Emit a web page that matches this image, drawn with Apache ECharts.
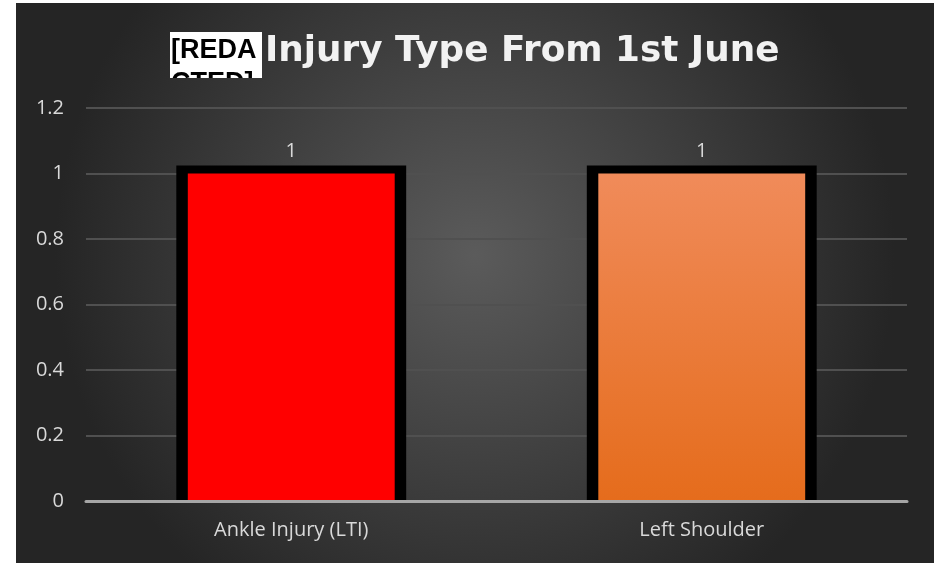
<!DOCTYPE html>
<html>
<head>
<meta charset="utf-8">
<script src="https://cdn.jsdelivr.net/npm/echarts@6/dist/echarts.min.js"></script>
<style>
  html, body { margin: 0; padding: 0; background: #ffffff; }
  #chart { position: absolute; left: 16px; top: 3px; width: 918px; height: 560px; }
</style>
</head>
<body>
<div id="chart"></div>
<script>
// data
var categories = ['Ankle Injury (LTI)', 'Left Shoulder'];
var injuryCounts = [1, 1];
var titleText = 'Injury Type From 1st June';

var fills = [
    '#ff0000',
    {
        type: 'linear', x: 0, y: 0, x2: 0, y2: 1,
        colorStops: [
            {offset: 0, color: '#f08b5a'},
            {offset: 1, color: '#e56c1c'}
        ]
    }
];

var seriesData = [];
for (var i = 0; i < categories.length; ++i)
    seriesData.push([i, injuryCounts[i]]);

// radial background, same numbers used for the patch under the redaction box
var bgStops = [
    {offset: 0, color: '#5b5b5b'},
    {offset: 1, color: '#252525'}
];

// bar with a thick black frame on top and sides, none at the base
function renderBar(params, api) {
    var idx = api.value(0);
    var top = api.coord([idx, api.value(1)]);
    var base = api.coord([idx, 0]);
    var band = api.size([1, 0])[0];
    var outerW = band * 0.56;
    var innerW = band * 0.504;
    var topBorder = 8;
    return {
        type: 'group',
        children: [
            {
                type: 'rect',
                shape: {x: top[0] - outerW / 2, y: top[1] - topBorder, width: outerW, height: base[1] - top[1] + topBorder},
                style: {fill: '#000000'}
            },
            {
                type: 'rect',
                shape: {x: top[0] - innerW / 2, y: top[1], width: innerW, height: base[1] - top[1]},
                style: {fill: fills[params.dataIndex]}
            },
            {
                type: 'text',
                x: top[0],
                y: top[1] - topBorder - 4,
                style: {
                    text: String(api.value(1)),
                    fill: '#d9d9d9',
                    font: '20px "Open Sans"',
                    align: 'center',
                    verticalAlign: 'bottom'
                }
            }
        ]
    };
}

var option = {
    backgroundColor: {
        type: 'radial', x: 0.5, y: 0.45, r: 0.75,
        colorStops: bgStops
    },
    title: {
        text: titleText,
        left: 244,
        top: 26,
        textStyle: {
            color: '#f2f2f2',
            fontFamily: 'DejaVu Sans',
            fontWeight: 'bold',
            fontSize: 35.8
        }
    },
    graphic: [
        {
            type: 'rect',
            shape: {x: 154, y: 29, width: 92, height: 46},
            style: {fill: '#ffffff'}
        },
        {
            type: 'text',
            x: 155, y: 31,
            style: {
                text: '[REDA\nCTED]',
                fill: '#000000',
                font: 'bold 27px "Liberation Sans", sans-serif',
                lineHeight: 33
            }
        },
        {
            // hides the cut-off lower half of the redaction box text
            type: 'rect',
            shape: {x: 148, y: 75, width: 104, height: 20},
            style: {
                fill: {
                    type: 'radial', x: 459, y: 252, r: 420, global: true,
                    colorStops: bgStops
                }
            }
        }
    ],
    grid: {
        left: 70,
        right: 27,
        top: 105,
        bottom: 62
    },
    xAxis: {
        type: 'category',
        data: categories,
        z: 3,
        axisLine: {lineStyle: {color: '#a6a6a6', width: 3}},
        axisTick: {show: false},
        axisLabel: {
            color: '#d9d9d9',
            fontFamily: 'Open Sans',
            fontSize: 20,
            margin: 19
        }
    },
    yAxis: {
        type: 'value',
        min: 0,
        max: 1.2,
        interval: 0.2,
        axisLine: {show: false},
        axisTick: {show: false},
        splitLine: {lineStyle: {color: '#505050', width: 2}},
        axisLabel: {
            color: '#d9d9d9',
            fontFamily: 'Open Sans',
            fontSize: 20,
            margin: 22,
            formatter: function (v) { return String(Math.round(v * 10) / 10); }
        }
    },
    series: [
        {
            name: 'Injury Type',
            type: 'custom',
            renderItem: renderBar,
            encode: {x: 0, y: 1},
            data: seriesData
        }
    ]
};

var myChart = echarts.init(document.getElementById('chart'));
myChart.setOption(option);
</script>
</body>
</html>
